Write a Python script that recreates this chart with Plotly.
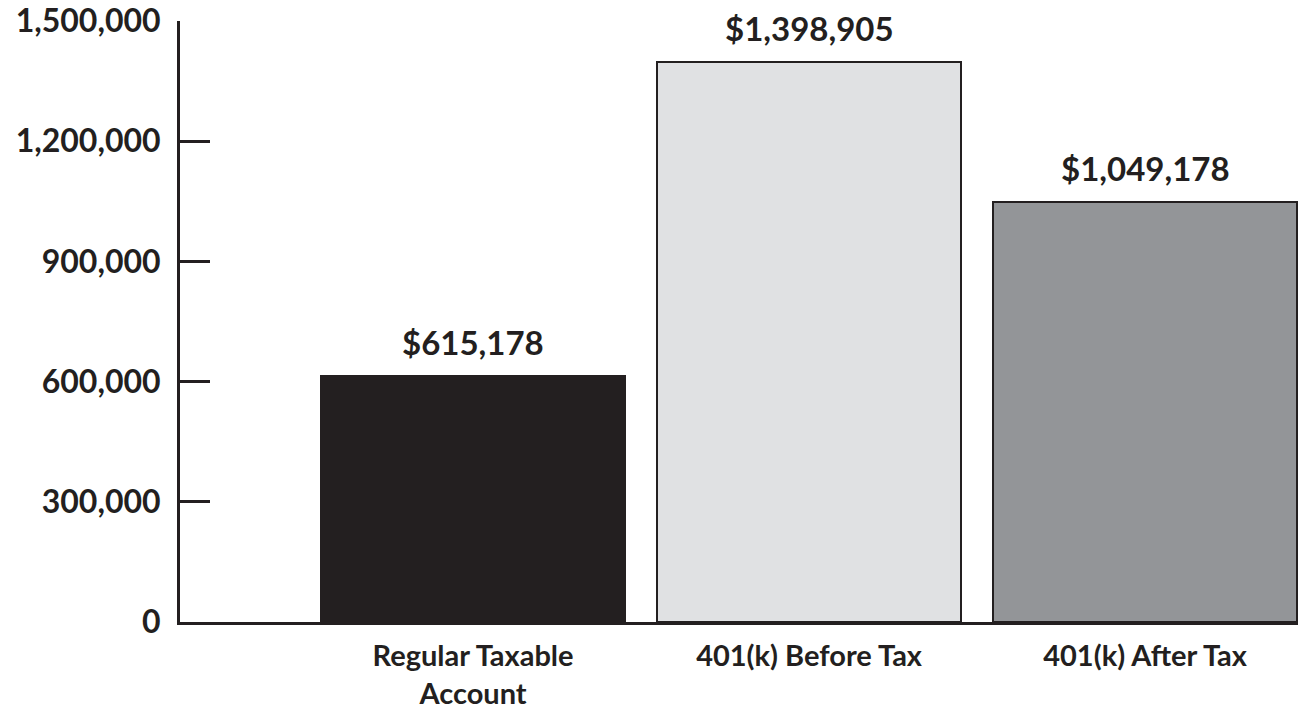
import plotly.graph_objects as go

# Account balances after the savings period
categories = ["Regular Taxable<br>Account", "401(k) Before Tax", "401(k) After Tax"]
balances = [615178, 1398905, 1049178]
bar_colors = ["#231f20", "#e0e1e3", "#939598"]

y_ticks = [0, 300000, 600000, 900000, 1200000, 1500000]
y_tick_labels = ["0", "300,000", "600,000", "900,000", "1,200,000", "1,500,000"]

ink = "#231f20"
font_family = "Lato"

fig = go.Figure()
fig.add_trace(go.Bar(
    x=categories,
    y=balances,
    width=0.905,
    marker=dict(color=bar_colors, line=dict(color=ink, width=2)),
    hoverinfo="skip",
))

# Dollar labels above each bar
for cat, val in zip(categories, balances):
    fig.add_annotation(
        x=cat, y=val, text=f"<b>${val:,}</b>",
        showarrow=False, yanchor="middle", yshift=34,
        font=dict(family=font_family, size=33, color=ink),
    )

fig.update_layout(
    width=1298, height=710,
    margin=dict(l=180, r=0, t=21, b=88),
    paper_bgcolor="white", plot_bgcolor="white",
    showlegend=False,
    bargap=0,
    font=dict(family=font_family, color=ink),
)
fig.update_xaxes(
    type="category",
    range=[-0.872, 2.455],
    showline=True, linecolor=ink, linewidth=3,
    showgrid=False, zeroline=False, ticks="",
    tickfont=dict(family=font_family, size=29, color=ink),
    ticklabelstandoff=6,
    tickvals=categories,
    ticktext=[f"<b>{c}</b>" for c in categories],
)
fig.update_yaxes(
    range=[0, 1500000],
    showline=True, linecolor=ink, linewidth=3,
    showgrid=False, zeroline=False,
    ticks="inside", ticklen=30, tickwidth=3, tickcolor=ink,
    tickvals=y_ticks,
    ticktext=[f"<b>{t}</b>" for t in y_tick_labels],
    tickfont=dict(family=font_family, size=32, color=ink),
    ticklabelstandoff=10,
)

fig.write_html("out.html")
